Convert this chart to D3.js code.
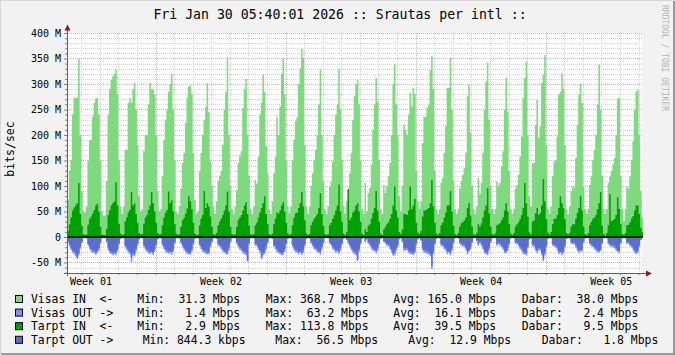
<!DOCTYPE html>
<html>
<head>
<meta charset="utf-8">
<script src="https://cdn.jsdelivr.net/npm/d3@7"></script>
<style>
  html, body { margin: 0; padding: 0; background: #f2f2f2; }
  svg { display: block; font-family: "DejaVu Sans Mono", monospace; }
  text { white-space: pre; }
</style>
</head>
<body>
<svg id="chart" width="675" height="355"></svg>
<script>
// ---- data (Mbps), 2-hour bins per day starting Dec 30 2025 00:00 (local time) ----
var title = "Fri Jan 30 05:40:01 2026 :: Srautas per intl ::";
var yLabel = "bits/sec";
var weekLabels = ["Week 01", "Week 02", "Week 03", "Week 04", "Week 05"];
var yTickValues = [-50, 0, 50, 100, 150, 200, 250, 300, 350, 400];

var visasIn = [
  [60, 50, 72, 72, 130, 151, 240, 273, 273, 273, 349, 200],
  [90, 50, 48, 60, 150, 190, 190, 236, 263, 272, 272, 240],
  [150, 50, 42, 42, 110, 240, 290, 308, 315, 320, 329, 280],
  [150, 60, 45, 60, 171, 171, 263, 273, 263, 289, 302, 250],
  [180, 80, 50, 55, 168, 200, 200, 260, 302, 289, 289, 280],
  [200, 90, 50, 55, 119, 190, 230, 250, 285, 300, 320, 250],
  [150, 50, 45, 60, 95, 145, 165, 224, 273, 295, 297, 280],
  [165, 72, 45, 50, 130, 165, 200, 230, 255, 302, 245, 148],
  [100, 60, 45, 70, 110, 120, 129, 181, 250, 285, 352, 200],
  [100, 55, 45, 60, 92, 145, 160, 168, 253, 290, 310, 200],
  [120, 55, 45, 60, 112, 105, 158, 240, 263, 318, 285, 178],
  [125, 55, 45, 70, 125, 158, 235, 200, 256, 320, 351, 280],
  [150, 60, 45, 60, 150, 190, 227, 235, 300, 331, 368.7, 351],
  [180, 60, 45, 60, 100, 125, 150, 171, 200, 260, 329, 200],
  [110, 55, 45, 60, 99, 110, 148, 200, 240, 260, 329, 250],
  [151, 60, 45, 70, 92, 125, 165, 230, 276, 300, 308, 260],
  [150, 55, 45, 106, 50, 87, 96, 142, 210, 260, 312, 265],
  [150, 55, 45, 102, 87, 100, 119, 145, 200, 300, 338, 260],
  [200, 80, 50, 100, 220, 210, 200, 240, 283, 256, 292, 280],
  [130, 70, 55, 70, 184, 236, 236, 253, 260, 328, 355, 290],
  [130, 55, 45, 55, 106, 116, 165, 217, 292, 292, 351, 250],
  [110, 55, 45, 55, 95, 110, 122, 135, 165, 276, 299, 204],
  [100, 55, 45, 60, 116, 85, 106, 165, 250, 305, 342, 230],
  [100, 55, 45, 55, 109, 100, 106, 138, 168, 250, 312, 245],
  [130, 55, 45, 55, 95, 102, 122, 158, 197, 272, 312, 344],
  [200, 80, 60, 145, 145, 220, 269, 194, 217, 302, 318, 357],
  [180, 55, 45, 60, 120, 148, 151, 197, 279, 285, 321, 290],
  [180, 55, 45, 60, 90, 99, 96, 155, 220, 279, 300, 263],
  [100, 55, 45, 55, 102, 119, 151, 171, 200, 260, 338, 250],
  [120, 55, 45, 55, 106, 119, 130, 142, 155, 200, 272, 272],
  [120, 55, 31.3, 55, 99, 95, 119, 151, 188, 250, 285, 289],
  [200, 90, 38]
];

var visasOut = [
  [8, 3, 2, 10, 18, 26, 31, 34, 38, 43, 36, 23],
  [12, 3, 2, 3, 17, 24, 29, 31, 32, 35, 31, 26],
  [13, 3, 2, 2, 11, 26, 32, 34, 36, 34, 36, 28],
  [15, 4, 2, 3, 20, 26, 31, 34, 49, 36, 38, 28],
  [17, 5, 2, 3, 19, 26, 29, 32, 34, 31, 36, 29],
  [17, 5, 2, 3, 17, 24, 29, 31, 33, 31, 35, 28],
  [13, 3, 2, 3, 13, 20, 26, 30, 34, 34, 35, 29],
  [15, 4, 2, 3, 17, 24, 29, 31, 33, 34, 34, 20],
  [11, 3, 2, 4, 17, 19, 24, 29, 31, 34, 35, 26],
  [11, 3, 2, 3, 13, 20, 25, 27, 32, 34, 36, 47],
  [15, 3, 2, 3, 17, 18, 26, 31, 43, 36, 34, 24],
  [13, 3, 2, 4, 19, 24, 30, 32, 34, 36, 35, 29],
  [15, 4, 2, 3, 19, 26, 30, 31, 34, 31, 36, 31],
  [18, 4, 2, 3, 13, 18, 24, 26, 30, 31, 35, 24],
  [13, 3, 2, 3, 13, 17, 24, 27, 31, 29, 34, 27],
  [15, 4, 2, 6, 13, 19, 26, 31, 34, 36, 47, 29],
  [15, 4, 2, 10, 5, 13, 17, 24, 27, 28, 32, 27],
  [15, 4, 2, 10, 13, 17, 18, 24, 30, 37, 36, 27],
  [20, 5, 3, 10, 27, 27, 26, 31, 34, 34, 36, 32],
  [15, 5, 3, 8, 26, 31, 31, 33, 34, 38, 63.2, 34],
  [15, 4, 2, 3, 17, 18, 24, 27, 34, 31, 36, 27],
  [13, 3, 2, 3, 13, 17, 18, 20, 26, 34, 29, 24],
  [12, 3, 2, 8, 17, 12, 17, 24, 32, 34, 36, 26],
  [12, 3, 2, 3, 17, 14, 17, 20, 25, 32, 31, 27],
  [15, 3, 2, 3, 13, 14, 18, 24, 27, 34, 34, 36],
  [22, 5, 3, 18, 19, 27, 32, 26, 27, 36, 47, 36],
  [20, 4, 2, 3, 17, 19, 20, 26, 34, 31, 36, 32],
  [20, 4, 2, 3, 13, 14, 14, 20, 27, 32, 28, 29],
  [12, 3, 2, 3, 14, 18, 20, 24, 27, 31, 30, 27],
  [14, 3, 1.4, 3, 14, 18, 19, 20, 22, 27, 29, 32],
  [14, 3, 2, 3, 13, 13, 18, 20, 26, 31, 34, 31],
  [20, 6, 2.4]
];

var tarptIn = [
  [10, 6, 5, 12, 25, 38, 52, 58, 62, 66, 106, 45],
  [22, 6, 4, 5, 24, 36, 40, 46, 53, 62, 65, 50],
  [20, 5, 4, 4, 16, 43, 53, 62, 66, 70, 107, 62],
  [26, 7, 4, 6, 31, 38, 48, 53, 88, 62, 66, 45],
  [28, 8, 5, 6, 26, 38, 43, 53, 62, 88, 66, 50],
  [28, 8, 5, 6, 23, 38, 48, 53, 89, 66, 72, 50],
  [25, 7, 4, 6, 20, 33, 38, 46, 56, 80, 70, 55],
  [28, 7, 4, 5, 23, 36, 43, 90, 57, 66, 60, 40],
  [20, 6, 4, 8, 23, 30, 36, 43, 52, 62, 89, 50],
  [20, 6, 4, 6, 20, 33, 38, 43, 52, 62, 68, 45],
  [22, 6, 4, 6, 23, 28, 38, 48, 57, 66, 80, 45],
  [25, 6, 4, 7, 25, 36, 48, 46, 52, 62, 68, 50],
  [28, 7, 4, 6, 23, 38, 46, 48, 57, 66, 88, 60],
  [33, 7, 4, 6, 23, 30, 36, 40, 45, 57, 86, 45],
  [22, 6, 4, 6, 23, 28, 36, 43, 52, 62, 103, 50],
  [30, 7, 4, 10, 94, 33, 38, 48, 52, 62, 66, 50],
  [30, 7, 4, 15, 10, 22, 25, 36, 47, 57, 90, 52],
  [30, 7, 4, 15, 20, 25, 29, 36, 45, 62, 99, 52],
  [38, 10, 6, 15, 45, 45, 43, 52, 99, 55, 62, 75],
  [28, 9, 6, 12, 40, 52, 52, 55, 57, 66, 112, 60],
  [28, 7, 4, 8, 23, 28, 38, 48, 62, 62, 90, 50],
  [22, 6, 4, 8, 20, 27, 29, 33, 38, 57, 66, 42],
  [20, 6, 4, 8, 25, 20, 27, 38, 52, 62, 96, 46],
  [20, 6, 4, 8, 23, 25, 27, 33, 38, 52, 66, 50],
  [25, 7, 4, 8, 20, 25, 29, 36, 43, 57, 106, 66],
  [40, 9, 5, 30, 33, 47, 57, 43, 47, 62, 113.8, 70],
  [35, 9, 5, 10, 25, 36, 36, 43, 57, 80, 66, 57],
  [35, 8, 5, 8, 20, 25, 25, 36, 47, 57, 80, 52],
  [20, 6, 4, 8, 23, 30, 36, 38, 43, 55, 66, 88],
  [22, 6, 2.9, 8, 23, 84, 31, 33, 36, 43, 78, 55],
  [25, 6, 4, 8, 23, 24, 29, 36, 41, 52, 62, 62],
  [45, 18, 9.5]
];

var tarptOut = [
  [6, 2, 1.5, 8, 14, 21, 26, 29, 33, 40, 32, 19],
  [9, 2, 1.5, 2, 13, 19, 24, 26, 27, 30, 28, 21],
  [10, 2, 1.5, 1.5, 8, 21, 27, 29, 31, 30, 31, 23],
  [12, 3, 1.5, 2, 16, 21, 26, 29, 40, 31, 33, 23],
  [13, 4, 1.5, 2, 15, 21, 24, 27, 29, 28, 31, 24],
  [13, 4, 1.5, 2, 13, 19, 24, 26, 28, 28, 30, 23],
  [10, 2, 1.5, 2, 10, 16, 21, 25, 29, 31, 30, 24],
  [12, 3, 1.5, 2, 13, 19, 24, 26, 28, 30, 29, 16],
  [8, 2, 1.5, 3, 13, 15, 19, 24, 28, 29, 30, 21],
  [8, 2, 1.5, 2, 10, 16, 20, 22, 27, 29, 31, 47],
  [12, 2, 1.5, 2, 13, 14, 21, 26, 40, 31, 29, 19],
  [10, 2, 1.5, 3, 15, 19, 25, 27, 30, 31, 30, 24],
  [12, 3, 1.5, 2, 15, 21, 25, 26, 29, 28, 31, 26],
  [14, 3, 1.5, 2, 10, 14, 19, 21, 25, 28, 30, 19],
  [10, 2, 1.5, 2, 10, 13, 19, 22, 26, 26, 29, 22],
  [12, 3, 1.5, 5, 10, 15, 21, 26, 29, 31, 44, 24],
  [12, 3, 1.5, 8, 4, 10, 13, 19, 22, 25, 27, 22],
  [12, 3, 1.5, 8, 10, 13, 14, 19, 25, 33, 31, 22],
  [16, 4, 2, 8, 22, 22, 21, 26, 29, 30, 31, 27],
  [12, 4, 2, 6, 21, 26, 26, 28, 29, 33, 56.5, 29],
  [12, 3, 1.5, 2, 13, 14, 19, 22, 29, 28, 31, 22],
  [10, 2, 1.5, 2, 10, 13, 14, 16, 21, 29, 26, 19],
  [9, 2, 1.5, 6, 13, 9, 13, 19, 27, 30, 31, 21],
  [9, 2, 1.5, 2, 13, 11, 13, 16, 20, 27, 28, 22],
  [12, 2, 1.5, 2, 10, 11, 14, 19, 22, 29, 30, 31],
  [18, 4, 2, 14, 15, 22, 27, 21, 22, 31, 44, 31],
  [16, 3, 1.5, 2, 13, 15, 16, 21, 29, 28, 31, 27],
  [16, 3, 1.5, 2, 10, 11, 11, 16, 22, 27, 25, 24],
  [9, 2, 1.5, 2, 11, 14, 16, 19, 22, 26, 27, 24],
  [11, 2, 0.84, 2, 11, 14, 15, 16, 17, 22, 26, 27],
  [11, 2, 1.5, 2, 10, 10, 14, 16, 21, 26, 29, 28],
  [16, 5, 1.8]
];

var legendNames = ["Visas IN  <-", "Visas OUT ->", "Tarpt IN  <-", "Tarpt OUT ->"];
var legendColors = ["#7fd97f", "#8090ff", "#00a000", "#5a6fc8"];
var legendMin = ["31.3 Mbps", "1.4 Mbps", "2.9 Mbps", "844.3 kbps"];
var legendMax = ["368.7 Mbps", "63.2 Mbps", "113.8 Mbps", "56.5 Mbps"];
var legendAvg = ["165.0 Mbps", "16.1 Mbps", "39.5 Mbps", "12.9 Mbps"];
var legendNow = ["38.0 Mbps", "2.4 Mbps", "9.5 Mbps", "1.8 Mbps"];

// ---- layout ----
var W = 675, H = 355;
var plot = {left: 67, right: 643, top: 33, bottom: 273};
var startTime = new Date(Date.UTC(2025, 11, 30, 5, 40)),
    endTime = new Date(Date.UTC(2026, 0, 30, 5, 40));

var svg = d3.select("#chart");

// background + 3d frame
svg.append("rect").attr("width", W).attr("height", H).attr("fill", "#f2f2f2");
svg.append("path").attr("d", "M0,354V0H674").attr("fill", "none").attr("stroke", "#d6d6d6").attr("stroke-width", 2);
svg.append("path").attr("d", "M1,354H674V1").attr("fill", "none").attr("stroke", "#9a9a9a").attr("stroke-width", 2);

var x = d3.scaleUtc().domain([startTime, endTime]).range([plot.left, plot.right]);
var y = d3.scaleLinear().domain([-70.6, 400]).range([plot.bottom, plot.top]);

// canvas
svg.append("rect")
  .attr("x", plot.left).attr("y", plot.top)
  .attr("width", plot.right - plot.left).attr("height", plot.bottom - plot.top)
  .attr("fill", "#ffffff");

svg.append("clipPath").attr("id", "clip")
  .append("rect")
  .attr("x", plot.left).attr("y", plot.top)
  .attr("width", plot.right - plot.left).attr("height", plot.bottom - plot.top);

// grid
var grid = svg.append("g").attr("class", "grid");
var minorY = d3.range(-70, 401, 10).filter(function(v) { return v % 50 !== 0; });
var majorY = d3.range(-50, 401, 50);
var days = d3.utcDay.range(startTime, endTime).filter(function(d) { return d.getUTCDay() !== 0; });
var weeks = d3.utcSunday.range(startTime, endTime);

function px(v) { return Math.round(v) + 0.5; }

grid.selectAll(".ymin").data(minorY).enter().append("line")
  .attr("x1", plot.left).attr("x2", plot.right)
  .attr("y1", function(d) { return px(y(d)); }).attr("y2", function(d) { return px(y(d)); })
  .attr("stroke", "#d4d4d4").attr("stroke-dasharray", "1,1");
grid.selectAll(".xmin").data(days).enter().append("line")
  .attr("y1", plot.top).attr("y2", plot.bottom)
  .attr("x1", function(d) { return px(x(d)); }).attr("x2", function(d) { return px(x(d)); })
  .attr("stroke", "#d4d4d4").attr("stroke-dasharray", "1,1");
grid.selectAll(".ymaj").data(majorY).enter().append("line")
  .attr("x1", plot.left).attr("x2", plot.right)
  .attr("y1", function(d) { return px(y(d)); }).attr("y2", function(d) { return px(y(d)); })
  .attr("stroke", "#e5a6a6").attr("stroke-dasharray", "1,1");
grid.selectAll(".xmaj").data(weeks).enter().append("line")
  .attr("y1", plot.top).attr("y2", plot.bottom)
  .attr("x1", function(d) { return px(x(d)); }).attr("x2", function(d) { return px(x(d)); })
  .attr("stroke", "#e5a6a6").attr("stroke-dasharray", "1,1");

// series
function toPoints(series) {
  var pts = [];
  series.forEach(function(vals, d) {
    vals.forEach(function(v, i) {
      pts.push({t: new Date(Date.UTC(2025, 11, 30 + d, i * 2)), v: v});
    });
  });
  var last = pts[pts.length - 1];
  pts.push({t: new Date(+last.t + 2 * 3600e3), v: last.v});
  return pts;
}

var areaUp = d3.area().curve(d3.curveStepAfter)
  .x(function(d) { return x(d.t); })
  .y0(y(0))
  .y1(function(d) { return y(d.v); });
var areaDown = d3.area().curve(d3.curveStepAfter)
  .x(function(d) { return x(d.t); })
  .y0(y(0))
  .y1(function(d) { return y(-d.v); });

var g = svg.append("g").attr("clip-path", "url(#clip)");
g.append("path").attr("d", areaUp(toPoints(visasIn))).attr("fill", legendColors[0]);
g.append("path").attr("d", areaDown(toPoints(visasOut))).attr("fill", legendColors[1]);
g.append("path").attr("d", areaUp(toPoints(tarptIn))).attr("fill", legendColors[2]);
g.append("path").attr("d", areaDown(toPoints(tarptOut))).attr("fill", legendColors[3]);

// zero rule
svg.append("line")
  .attr("x1", plot.left).attr("x2", plot.right)
  .attr("y1", y(0)).attr("y2", y(0))
  .attr("stroke", "#000").attr("stroke-width", 1.5);

// axes
var yAxis = svg.append("g").attr("transform", "translate(" + plot.left + ",0)")
  .call(d3.axisLeft(y).tickValues(yTickValues).tickSize(3).tickPadding(3)
    .tickFormat(function(d) { return d === 0 ? "0" : d + " M"; }));
yAxis.select(".domain").remove();
yAxis.selectAll("line").attr("stroke", "#808080");
yAxis.selectAll("text").attr("font-family", "DejaVu Sans Mono").attr("font-size", 10).attr("fill", "#000");

var yMinor = svg.append("g").attr("transform", "translate(" + plot.left + ",0)")
  .call(d3.axisLeft(y).tickValues(minorY).tickSize(2).tickFormat(""));
yMinor.select(".domain").remove();
yMinor.selectAll("line").attr("stroke", "#808080");

var weekMid = weeks.map(function(d) { return d3.utcHour.offset(d, -3.5 * 24); });
weekMid.push(d3.utcHour.offset(weeks[weeks.length - 1], 3.5 * 24));
var xAxis = svg.append("g").attr("transform", "translate(0," + plot.bottom + ")")
  .call(d3.axisBottom(x).tickValues(weekMid).tickSize(0).tickPadding(5)
    .tickFormat(function(d, i) { return weekLabels[i]; }));
xAxis.select(".domain").remove();
xAxis.selectAll("text").attr("font-family", "DejaVu Sans Mono").attr("font-size", 10).attr("fill", "#000");

var xTicks = svg.append("g").attr("transform", "translate(0," + plot.bottom + ")")
  .call(d3.axisBottom(x).tickValues(days.concat(weeks)).tickSize(2).tickFormat(""));
xTicks.select(".domain").remove();
xTicks.selectAll("line").attr("stroke", "#808080");

// axis lines with arrows
svg.append("line").attr("x1", plot.left + 0.5).attr("x2", plot.left + 0.5)
  .attr("y1", plot.bottom + 3).attr("y2", 28).attr("stroke", "#606060");
svg.append("line").attr("x1", plot.left - 3).attr("x2", 648)
  .attr("y1", plot.bottom + 0.5).attr("y2", plot.bottom + 0.5).attr("stroke", "#606060");
svg.append("path").attr("d", "M64.5,30.5L67.5,24.5L70.5,30.5Z").attr("fill", "#8b1a1a");
svg.append("path").attr("d", "M646,270.5L652,273.5L646,276.5Z").attr("fill", "#8b1a1a");

// title and labels
svg.append("text").attr("x", 340).attr("y", 18.5).attr("text-anchor", "middle")
  .attr("font-size", 13.2).attr("fill", "#000").text(title);
svg.append("text").attr("transform", "translate(14,149) rotate(-90)").attr("text-anchor", "middle")
  .attr("font-size", 11.5).attr("fill", "#000").text(yLabel);
svg.append("text").attr("transform", "translate(662,5) rotate(90)")
  .attr("font-size", 8).attr("fill", "#b4b4b4").text("RRDTOOL / TOBI OETIKER");

// legend
function pad(s, n) { var num = s.split(" ")[0]; return num.padStart(n) + " " + s.split(" ")[1]; }
var colX = [[137.3, 265.7, 393.3, 521.7], [137.3, 265.7, 393.3, 521.7],
            [137.3, 265.7, 393.3, 521.7], [142.7, 275.3, 408.3, 541.7]];
var rowY = [303, 316.6, 330.2, 343.8];
var legend = svg.append("g").attr("font-size", 11.4).attr("fill", "#000");
legendNames.forEach(function(name, i) {
  legend.append("rect").attr("x", 15.5).attr("y", rowY[i] - 7.5).attr("width", 7).attr("height", 7)
    .attr("fill", legendColors[i]).attr("stroke", "#000").attr("stroke-width", 1);
  legend.append("text").attr("x", 31).attr("y", rowY[i]).attr("xml:space", "preserve").text(name);
  var parts = ["Min: " + pad(legendMin[i], 5), "Max: " + pad(legendMax[i], 5),
               "Avg: " + pad(legendAvg[i], 5), "Dabar: " + pad(legendNow[i], 5)];
  parts.forEach(function(p, j) {
    legend.append("text").attr("x", colX[i][j]).attr("y", rowY[i]).attr("xml:space", "preserve").text(p);
  });
});
</script>
</body>
</html>
